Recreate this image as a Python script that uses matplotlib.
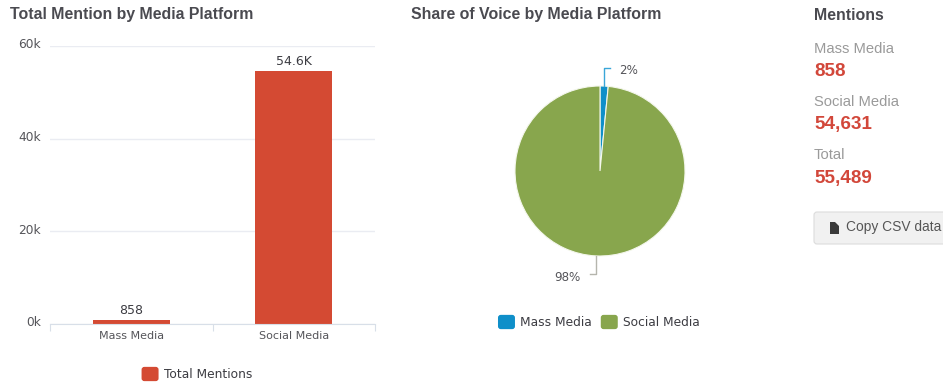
import matplotlib
matplotlib.use('Agg')
import matplotlib.pyplot as plt
import numpy as np
from matplotlib.legend_handler import HandlerPatch
from matplotlib.patches import FancyBboxPatch, Patch, Polygon
from matplotlib.ticker import FuncFormatter
from matplotlib.transforms import ScaledTranslation

platforms = ['Mass Media', 'Social Media']
mentions = [858, 54631]
y_ticks = [0, 20000, 40000, 60000]

W, H = 943, 383
RED = '#d44a33'
BLUE = '#0f8fc9'
GREEN = '#88a64d'
TITLE = '#4a4a50'
LABEL = '#55555a'
SANS = ['Liberation Sans', 'DejaVu Sans']


def box(left, top, right, bottom):
    # pixel box (y down from the top) to figure fractions
    return [left / W, 1 - bottom / H, (right - left) / W, (bottom - top) / H]


def put(x, y, s, **kw):
    kw.setdefault('va', 'center')
    return fig.text(x / W, 1 - y / H, s, **kw)


def short(v):
    return f'{v / 1000:.1f}K' if v >= 1000 else str(v)


class RoundSwatch(HandlerPatch):
    def create_artists(self, legend, orig, xd, yd, width, height, fontsize, trans):
        p = FancyBboxPatch((-xd + 1, -yd + 1), width - 2, height - 2,
                           boxstyle='round,pad=1,rounding_size=2',
                           fc=orig.get_facecolor(), ec='none', transform=trans)
        return [p]


def add_legend(anchor, items):
    handles = [Patch(color=c, label=l) for l, c in items]
    return fig.legend(handles=handles, loc='center', bbox_to_anchor=(anchor[0] / W, 1 - anchor[1] / H),
                      ncol=len(items), frameon=False, prop={'family': 'DejaVu Sans', 'size': 8.8},
                      labelcolor='#3c3c42', handlelength=1.39, handleheight=1.42, handletextpad=0.45,
                      columnspacing=0.7, borderpad=0, borderaxespad=0,
                      handler_map={Patch: RoundSwatch()})


fig = plt.figure(figsize=(W / 100, H / 100), dpi=100, facecolor='white')

# bar chart
ax = fig.add_axes(box(50, 46, 375, 324))
x = np.arange(len(platforms)) + 0.5
bars = ax.bar(x, mentions, width=0.474, color=RED, linewidth=0)
ax.set_xlim(0, 2)
ax.set_ylim(0, 60000)
ax.set_yticks(y_ticks)
ax.yaxis.set_major_formatter(FuncFormatter(lambda v, _: f'{v / 1000:.0f}k'))
ax.set_xticks(x)
ax.set_xticklabels(platforms)
ax.set_xticks([0, 1, 2], minor=True)
ax.tick_params(axis='x', which='major', length=0, pad=5, labelsize=8, labelcolor=LABEL)
ax.tick_params(axis='x', which='minor', length=5, width=0.8, color='#d8dfe8')
ax.tick_params(axis='y', length=0, pad=6.5, labelsize=8.8, labelcolor=LABEL)
for lab in ax.get_yticklabels():
    lab.set_transform(lab.get_transform() + ScaledTranslation(0, 2.5 / 100, fig.dpi_scale_trans))
ax.grid(axis='y', color='#eaecf2', linewidth=1)
ax.set_axisbelow(True)
for side in ['top', 'left', 'right']:
    ax.spines[side].set_visible(False)
ax.spines['bottom'].set_color('#d8dfe8')
for b, v in zip(bars, mentions):
    ax.annotate(short(v), (b.get_x() + b.get_width() / 2, v), xytext=(0, 2), textcoords='offset points',
                ha='center', va='bottom', fontsize=9, color='#3c3c42')

# pie chart
pie = fig.add_axes(box(515, 86, 685, 256))
wedges, _ = pie.pie(mentions, colors=[BLUE, GREEN], startangle=90, counterclock=False, radius=1,
                    wedgeprops={'edgecolor': '#f4f7ec', 'linewidth': 0.8})
pie.set_xlim(-1, 1)
pie.set_ylim(-1, 1)

# leader lines start at each wedge's mid angle
shares = np.array(mentions) / sum(mentions)
for w, share, col in zip(wedges, shares, ['#3aa6d8', '#b5b5ad']):
    a = np.radians((w.theta1 + w.theta2) / 2)
    sx, sy = np.cos(a), np.sin(a)
    side = 1 if sy > 0 else -1
    ey = sy + side * 0.215
    hook = 0.07 * side
    pie.plot([sx, sx, sx + hook], [sy, ey, ey], color=col, lw=1, clip_on=False)
    pie.annotate(f'{share * 100:.0f}%', (sx, ey - 0.035), xytext=(15 * side, 0), textcoords='offset pixels',
                 ha='left' if side > 0 else 'right', va='center', fontsize=8.6, color=LABEL,
                 annotation_clip=False)

# headings
for px, s in [(10, 'Total Mention by Media Platform'), (411, 'Share of Voice by Media Platform'),
              (814, 'Mentions')]:
    put(px, 15, s, fontsize=11.4, fontweight='bold', color=TITLE, family=SANS)

add_legend((197, 374), [('Total Mentions', RED)])
add_legend((599, 322), [(platforms[0], BLUE), (platforms[1], GREEN)])

# summary column
rows = [(platforms[0], mentions[0]), (platforms[1], mentions[1]), ('Total', sum(mentions))]
for i, (name, value) in enumerate(rows):
    put(814, 49 + i * 53, name, fontsize=10.6, color='#9a9a9a', family=SANS)
    put(814, 72 + i * 53, f'{value:,}', fontsize=13.6, fontweight='bold', color='#d2473a', family=SANS)

# copy button, runs off the right edge
btn = fig.add_axes([0, 0, 1, 1], facecolor='none')
btn.set_xlim(0, W)
btn.set_ylim(H, 0)
btn.axis('off')
btn.add_patch(FancyBboxPatch((814, 212), 160, 32, boxstyle='round,pad=0,rounding_size=3',
                             fc='#f1f1f1', ec='#dcdcdc', lw=0.8))
btn.add_patch(Polygon([(830, 222), (835, 222), (839, 226), (839, 234), (830, 234)], fc='#3a3a3a', ec='none'))
put(846, 227, 'Copy CSV data', fontsize=9.9, color='#555555', family=SANS)

fig.savefig('out.png', dpi=100)
